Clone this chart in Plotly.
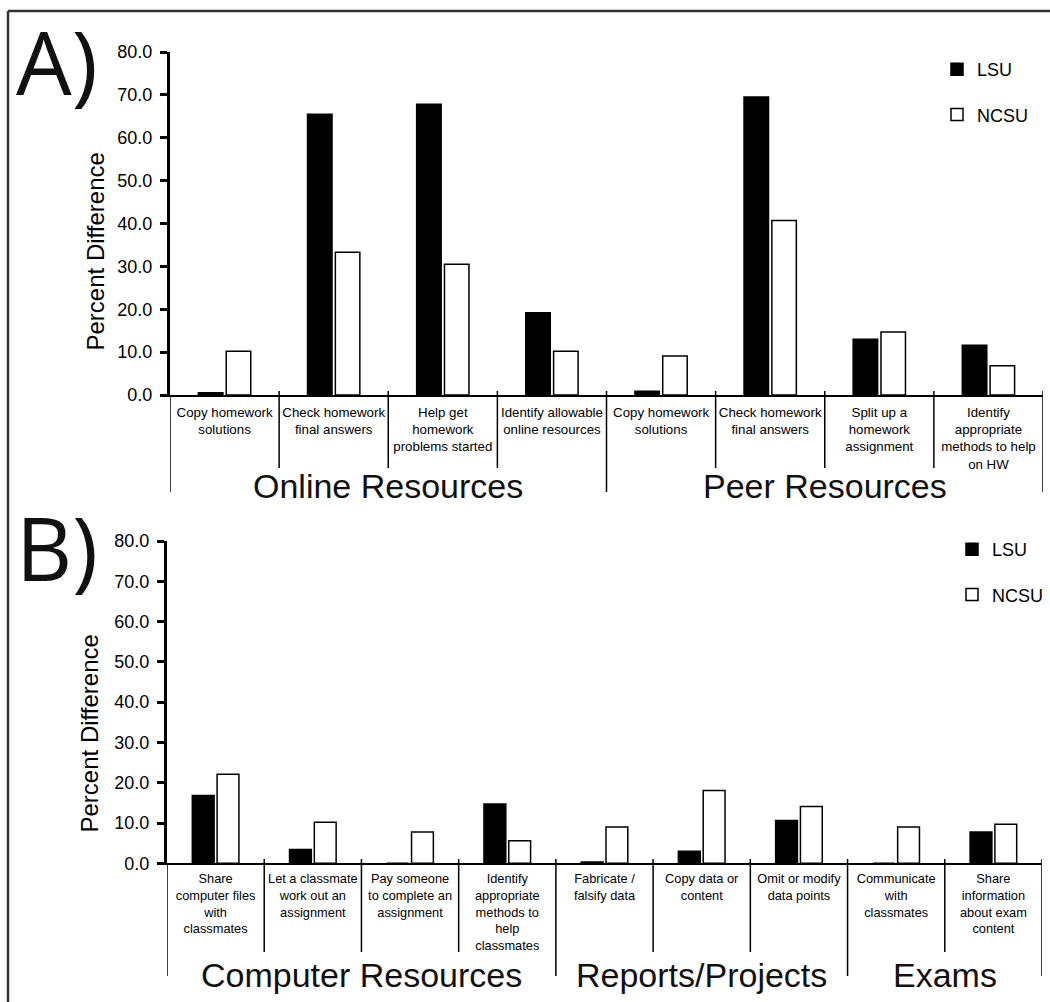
import plotly.graph_objects as go

# ---------------- data ----------------
top_labels = [
    "Copy homework<br>solutions",
    "Check homework<br>final answers",
    "Help get<br>homework<br>problems started",
    "Identify allowable<br>online resources",
    "Copy homework<br>solutions",
    "Check homework<br>final answers",
    "Split up a<br>homework<br>assignment",
    "Identify<br>appropriate<br>methods to help<br>on HW",
]
top_lsu = [0.5, 65.5, 67.8, 19.2, 0.9, 69.5, 13.0, 11.6]
top_ncsu = [10.2, 33.3, 30.5, 10.2, 9.1, 40.7, 14.7, 6.8]
top_groups = ["Online Resources", "Peer Resources"]
top_group_sizes = [4, 4]

bot_labels = [
    "Share<br>computer files<br>with<br>classmates",
    "Let a classmate<br>work out an<br>assignment",
    "Pay someone<br>to complete an<br>assignment",
    "Identify<br>appropriate<br>methods to<br>help<br>classmates",
    "Fabricate /<br>falsify data",
    "Copy data or<br>content",
    "Omit or modify<br>data points",
    "Communicate<br>with<br>classmates",
    "Share<br>information<br>about exam<br>content",
]
bot_lsu = [16.8, 3.4, 0.0, 14.7, 0.3, 3.0, 10.6, 0.0, 7.8]
bot_ncsu = [22.1, 10.2, 7.8, 5.6, 9.0, 18.1, 14.1, 9.0, 9.7]
bot_groups = ["Computer Resources", "Reports/Projects", "Exams"]
bot_group_sizes = [4, 3, 2]

y_ticks = [0, 10, 20, 30, 40, 50, 60, 70, 80]

# ---------------- geometry helpers ----------------
W, H = 1050, 1002
FONT = "Liberation Sans, Arial, Helvetica, sans-serif"


def px(x):
    return x / W


def py(y):
    return (H - y) / H


panels = [
    dict(labels=top_labels, lsu=top_lsu, ncsu=top_ncsu, groups=top_groups, sizes=top_group_sizes,
         x0=170, x1=1043, ytop=52, ybot=395, sep_top=391, cat_bot=468, grp_bot=492,
         glabel_y=486, title_x=95.5, title_y=252, letter="A)", letter_y=61, letter_size=88,
         label_size=13.3, label_pad=4,
         legend_x=937, legend_top=51, xa="x", ya="y", xname="xaxis", yname="yaxis", legend="legend"),
    dict(labels=bot_labels, lsu=bot_lsu, ncsu=bot_ncsu, groups=bot_groups, sizes=bot_group_sizes,
         x0=167, x1=1042, ytop=541, ybot=863.3, sep_top=859, cat_bot=952, grp_bot=976,
         glabel_y=975, title_x=88.5, title_y=734, letter="B)", letter_y=547, letter_size=87,
         label_size=12.8, label_pad=3,
         legend_x=952, legend_top=531, xa="x2", ya="y2", xname="xaxis2", yname="yaxis2", legend="legend2"),
]

fig = go.Figure()
shapes = []
annotations = []
layout_axes = {}

for k, p in enumerate(panels):
    n = len(p["labels"])
    xs = list(range(n))
    fig.add_trace(go.Bar(
        x=xs, y=p["lsu"], name="LSU", xaxis=p["xa"], yaxis=p["ya"],
        marker=dict(color="black", line=dict(color="black", width=1.5)),
        legend=p["legend"], legendgroup=f"lsu{k}",
    ))
    fig.add_trace(go.Bar(
        x=xs, y=p["ncsu"], name="NCSU", xaxis=p["xa"], yaxis=p["ya"],
        marker=dict(color="white", line=dict(color="black", width=1.5)),
        legend=p["legend"], legendgroup=f"ncsu{k}",
    ))

    layout_axes[p["xname"]] = dict(
        domain=[px(p["x0"]), px(p["x1"])], range=[-0.5, n - 0.5], anchor=p["ya"],
        tickmode="array", tickvals=xs, ticktext=p["labels"], ticks="",
        showline=True, linecolor="black", linewidth=1.5, showgrid=False, zeroline=False,
        tickfont=dict(family=FONT, size=p["label_size"], color="black"),
        ticklabelstandoff=p["label_pad"],
        fixedrange=True, automargin=False,
    )
    layout_axes[p["yname"]] = dict(
        domain=[py(p["ybot"]), py(p["ytop"])], range=[0, 80], anchor=p["xa"],
        tickmode="array", tickvals=y_ticks, tickformat=".1f",
        ticks="outside", ticklen=7, tickwidth=3, tickcolor="black",
        showline=True, linecolor="black", linewidth=3, showgrid=False, zeroline=False,
        tickfont=dict(family=FONT, size=18, color="black"), ticklabelstandoff=4,
        fixedrange=True, automargin=False,
    )

    # separators between categories and groups
    bounds = []
    acc = 0
    for s in p["sizes"]:
        acc += s
        bounds.append(acc - 0.5)
    for i in range(n - 1):
        b = i + 0.5
        if b in bounds:
            continue
        shapes.append(dict(type="line", xref=p["xa"], yref="paper", x0=b, x1=b,
                           y0=py(p["sep_top"]), y1=py(p["cat_bot"]),
                           line=dict(color="black", width=1.5)))
    shapes.append(dict(type="line", xref=p["xa"], yref="paper", x0=-0.5, x1=-0.5,
                       y0=py(p["ybot"]), y1=py(p["grp_bot"]),
                       line=dict(color="black", width=1.5)))
    for b in bounds:
        shapes.append(dict(type="line", xref=p["xa"], yref="paper", x0=b, x1=b,
                           y0=py(p["sep_top"]), y1=py(p["grp_bot"]),
                           line=dict(color="black", width=1.5)))

    # group labels
    start = 0
    for g, s in zip(p["groups"], p["sizes"]):
        annotations.append(dict(text=g, xref=p["xa"], yref="paper", x=start + s / 2 - 0.5,
                                y=py(p["glabel_y"]), showarrow=False, xanchor="center",
                                yanchor="middle", font=dict(family=FONT, size=34, color="#111")))
        start += s

    # y title
    annotations.append(dict(text="Percent Difference", xref="paper", yref="paper",
                            x=px(p["title_x"]), y=py(p["title_y"]), textangle=-90,
                            showarrow=False, xanchor="center", yanchor="middle",
                            font=dict(family=FONT, size=24, color="black")))
    # panel letter
    annotations.append(dict(text=p["letter"], xref="paper", yref="paper",
                            x=px(14), y=py(p["letter_y"]), showarrow=False,
                            xanchor="left", yanchor="middle",
                            font=dict(family="Open Sans, sans-serif", size=p["letter_size"], color="#111")))

# cross ticks on the right side of the y axes
for name, over, anc, dom in [("yaxis3", "y", "x", layout_axes["yaxis"]["domain"]),
                             ("yaxis4", "y2", "x2", layout_axes["yaxis2"]["domain"])]:
    layout_axes[name] = dict(overlaying=over, anchor=anc, side="left", range=[0, 80],
                             domain=dom, tickmode="array", tickvals=y_ticks,
                             ticks="inside", ticklen=5, tickwidth=3, tickcolor="black",
                             showticklabels=False, showline=False, showgrid=False, zeroline=False,
                             automargin=False)

# outer frame (top and left edges)
shapes.append(dict(type="line", xref="paper", yref="paper", x0=px(8), x1=1, y0=py(11), y1=py(11),
                   line=dict(color="#333", width=2.5)))
shapes.append(dict(type="line", xref="paper", yref="paper", x0=px(8), x1=px(8), y0=py(11), y1=0,
                   line=dict(color="#333", width=2.5)))

legend_style = dict(xanchor="left", yanchor="top", font=dict(family=FONT, size=18, color="black"),
                    bgcolor="rgba(0,0,0,0)", traceorder="grouped", tracegroupgap=19,
                    itemwidth=30, itemclick=False, itemdoubleclick=False)

fig.update_layout(
    width=W, height=H, margin=dict(l=0, r=0, t=0, b=0, pad=0, autoexpand=False),
    paper_bgcolor="white", plot_bgcolor="white",
    barmode="group", bargap=0.49, bargroupgap=0.12,
    showlegend=True,
    legend=dict(x=px(panels[0]["legend_x"]), y=py(panels[0]["legend_top"]), **legend_style),
    legend2=dict(x=px(panels[1]["legend_x"]), y=py(panels[1]["legend_top"]), **legend_style),
    shapes=shapes, annotations=annotations,
    **layout_axes,
)

fig.write_html("out.html", config={"displayModeBar": False},
               post_script="document.body.style.margin='0';document.body.style.overflow='hidden';")
